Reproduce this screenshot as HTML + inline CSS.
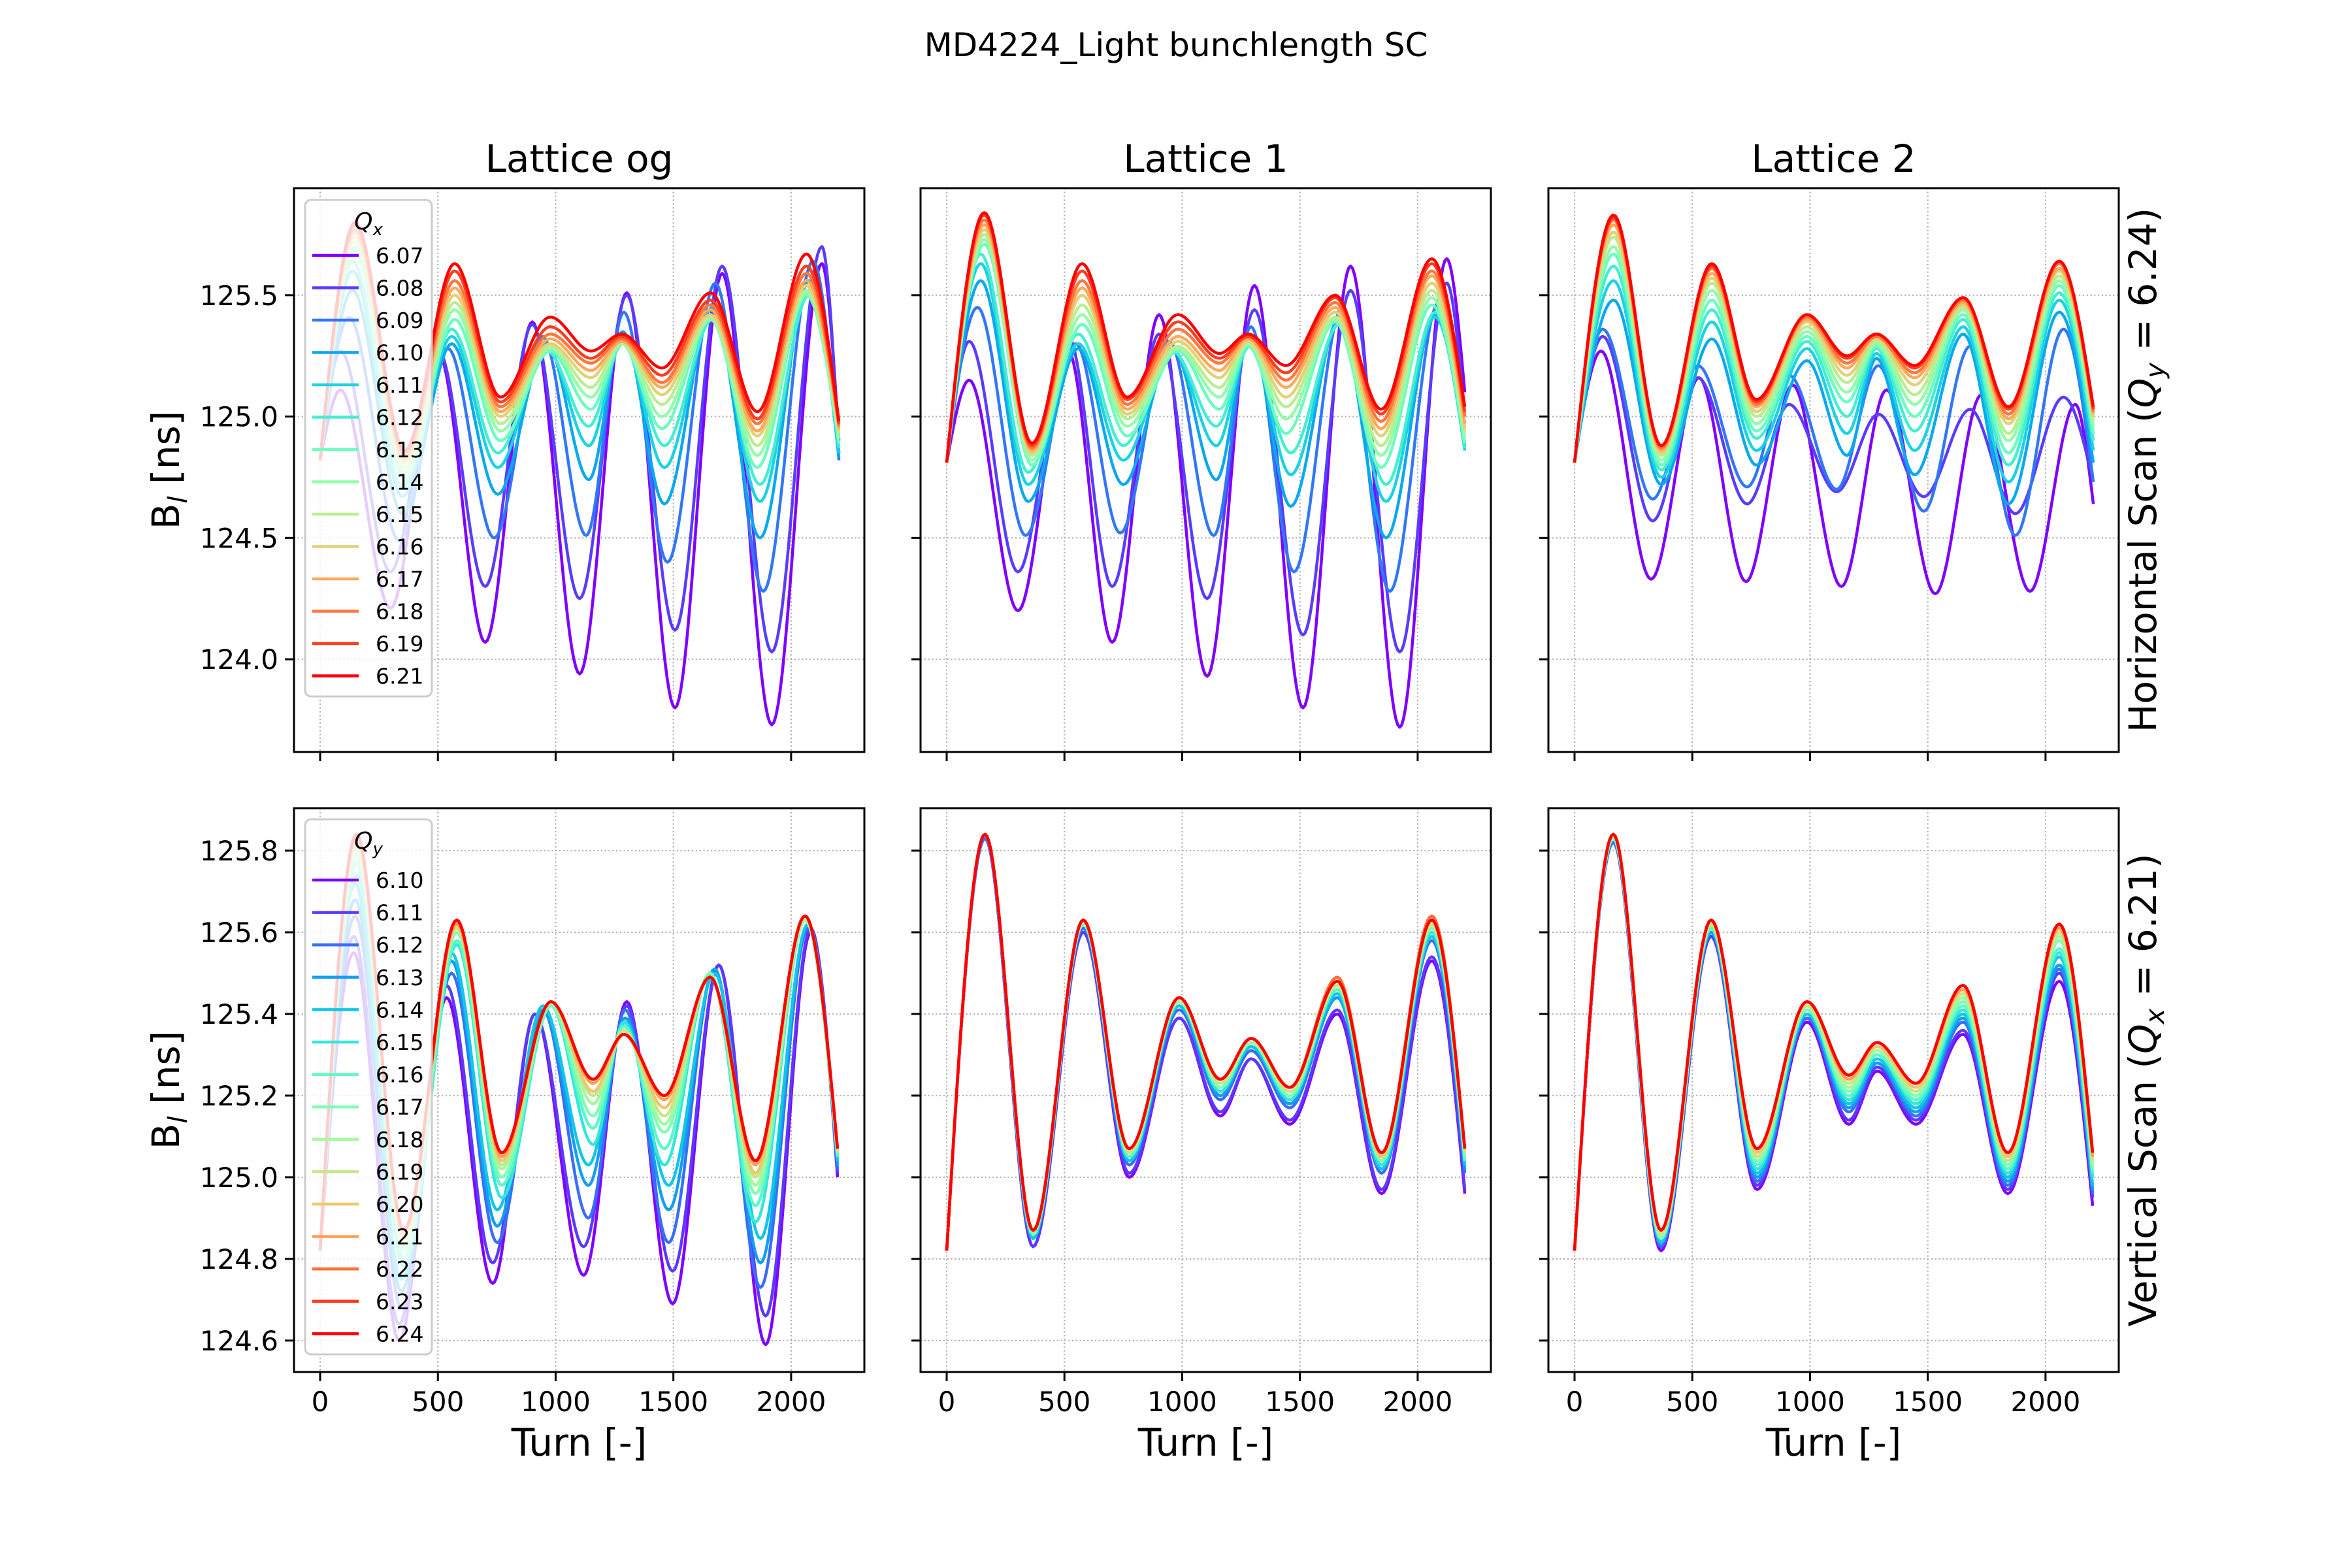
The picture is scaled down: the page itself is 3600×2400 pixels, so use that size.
<!DOCTYPE html>
<html><head><meta charset="utf-8"><title>MD4224_Light bunchlength SC</title>
<style>
html,body{margin:0;padding:0;background:#fff;}
svg{display:block;font-family:"DejaVu Sans","Liberation Sans",sans-serif;}
</style></head>
<body>
<svg id="fig" xmlns="http://www.w3.org/2000/svg" width="3600" height="2400" viewBox="0 0 3600 2400">
<rect x="0" y="0" width="3600" height="2400" fill="#fff"/>
<text x="1800" y="86" font-size="50" text-anchor="middle">MD4224_Light bunchlength SC</text>
</svg>
<script>
// ---------- data ----------
const qxLabels = ["6.07","6.08","6.09","6.10","6.11","6.12","6.13","6.14","6.15","6.16","6.17","6.18","6.19","6.21"];
const qyLabels = ["6.10","6.11","6.12","6.13","6.14","6.15","6.16","6.17","6.18","6.19","6.20","6.21","6.22","6.23","6.24"];
const xTicks = [0,500,1000,1500,2000];
const yTicksTop = [124.0,124.5,125.0,125.5];
const yTicksBot = [124.6,124.8,125.0,125.2,125.4,125.6,125.8];
const colTitles = ["Lattice og","Lattice 1","Lattice 2"];

// Top-left: Lattice og, horizontal scan
const tlTurnsA = [0,87,299,503,701,901,1102,1302,1507,1707,1918,2130,2203];
const tlTurnsB = [0,123,335,543,739,945,1130,1290,1475,1678,1882,2092,2203];
const tlTurnsD = [0,138,349,559,754,963,1141,1285,1462,1666,1868,2076,2203];
const tlTurnsC = [0,149,359,571,766,977,1150,1281,1452,1658,1857,2065,2203];
const tlTurns = [tlTurnsA,tlTurnsA,tlTurnsB,tlTurnsD,tlTurnsD,tlTurnsD,tlTurnsC,tlTurnsC,tlTurnsC,tlTurnsC,tlTurnsC,tlTurnsC,tlTurnsC,tlTurnsC];
const tlVals = [
[124.82,125.11,124.21,125.26,124.07,125.39,123.94,125.51,123.80,125.59,123.73,125.63,124.90],
[124.82,125.27,124.36,125.27,124.30,125.38,124.25,125.50,124.12,125.62,124.03,125.70,124.85],
[124.82,125.41,124.49,125.28,124.50,125.33,124.51,125.43,124.40,125.55,124.28,125.64,124.82],
[124.82,125.52,124.60,125.30,124.68,125.30,124.74,125.35,124.64,125.45,124.50,125.56,124.83],
[124.82,125.60,124.67,125.33,124.79,125.28,124.88,125.31,124.79,125.41,124.65,125.52,124.85],
[124.82,125.64,124.71,125.36,124.85,125.27,124.96,125.30,124.88,125.40,124.72,125.50,124.87],
[124.82,125.68,124.74,125.40,124.90,125.27,125.03,125.30,124.95,125.40,124.79,125.50,124.89],
[124.82,125.70,124.77,125.44,124.94,125.28,125.08,125.30,125.00,125.40,124.84,125.51,124.91],
[124.82,125.72,124.79,125.47,124.97,125.29,125.12,125.30,125.05,125.41,124.88,125.52,124.93],
[124.82,125.74,124.81,125.50,125.00,125.30,125.16,125.31,125.09,125.42,124.92,125.54,124.94],
[124.82,125.76,124.82,125.53,125.02,125.32,125.19,125.31,125.12,125.44,124.94,125.56,124.95],
[124.82,125.77,124.83,125.56,125.04,125.34,125.22,125.32,125.14,125.46,124.97,125.59,124.96],
[124.82,125.79,124.85,125.60,125.06,125.37,125.24,125.33,125.17,125.48,124.99,125.62,124.97],
[124.82,125.80,124.86,125.63,125.08,125.41,125.27,125.34,125.20,125.51,125.02,125.67,124.98]
];

// Top-middle: Lattice 1, horizontal scan
const tmTurnsA = [0,96,303,516,703,902,1106,1307,1513,1715,1924,2123,2200];
const tmTurnsB = [0,131,335,548,737,945,1134,1292,1475,1680,1882,2089,2200];
const tmTurnsD = [0,145,346,559,750,960,1145,1288,1461,1666,1866,2074,2200];
const tmTurnsC = [0,160,362,575,766,982,1158,1280,1441,1650,1845,2060,2200];
const tmTurns = [tmTurnsA,tmTurnsA,tmTurnsB,tmTurnsD,tmTurnsD,tmTurnsD,tmTurnsC,tmTurnsC,tmTurnsC,tmTurnsC,tmTurnsC,tmTurnsC,tmTurnsC,tmTurnsC];
const tmVals = [
[124.81,125.15,124.20,125.27,124.07,125.42,123.93,125.54,123.80,125.62,123.72,125.65,125.10],
[124.81,125.31,124.36,125.33,124.30,125.34,124.25,125.44,124.10,125.52,124.03,125.55,125.00],
[124.81,125.45,124.51,125.30,124.52,125.31,124.51,125.37,124.36,125.45,124.28,125.47,124.95],
[124.81,125.56,124.65,125.28,124.72,125.28,124.74,125.33,124.63,125.40,124.50,125.42,124.88],
[124.81,125.63,124.72,125.30,124.82,125.27,124.88,125.30,124.76,125.38,124.65,125.41,124.86],
[124.81,125.67,124.77,125.34,124.88,125.27,124.96,125.29,124.85,125.38,124.72,125.43,124.87],
[124.81,125.71,124.80,125.38,124.92,125.27,125.03,125.29,124.93,125.39,124.79,125.46,124.89],
[124.81,125.73,124.82,125.42,124.96,125.28,125.08,125.30,124.99,125.40,124.84,125.49,124.91],
[124.81,125.75,124.84,125.46,124.99,125.29,125.12,125.30,125.04,125.41,124.88,125.52,124.93],
[124.81,125.77,124.85,125.50,125.01,125.31,125.16,125.31,125.08,125.43,124.92,125.55,124.95],
[124.81,125.79,124.86,125.53,125.03,125.33,125.19,125.32,125.12,125.45,124.95,125.58,124.97],
[124.81,125.81,124.87,125.56,125.05,125.36,125.22,125.33,125.15,125.47,124.98,125.60,125.00],
[124.81,125.83,124.88,125.60,125.07,125.39,125.24,125.33,125.18,125.49,125.01,125.63,125.02],
[124.81,125.84,124.89,125.63,125.08,125.42,125.26,125.34,125.21,125.50,125.03,125.65,125.04]
];

// Top-right: Lattice 2, horizontal scan
const trTurnsA = [0,113,325,528,728,926,1133,1325,1532,1728,1934,2126,2203];
const trTurnsB = [0,120,332,524,733,911,1113,1290,1483,1680,1872,2076,2203];
const trTurnsC = [0,166,368,583,772,987,1157,1282,1444,1651,1843,2058,2203];
const trTurns = [trTurnsA,trTurnsB,trTurnsB,trTurnsC,trTurnsC,trTurnsC,trTurnsC,trTurnsC,trTurnsC,trTurnsC,trTurnsC,trTurnsC,trTurnsC,trTurnsC];
const trVals = [
[124.81,125.27,124.33,125.16,124.32,125.13,124.30,125.11,124.27,125.09,124.28,125.05,124.64],
[124.81,125.33,124.57,125.16,124.64,125.05,124.69,125.01,124.67,125.03,124.60,125.08,124.73],
[124.81,125.36,124.66,125.21,124.71,125.17,124.70,125.21,124.61,125.29,124.51,125.36,124.73],
[124.81,125.48,124.72,125.32,124.80,125.23,124.84,125.24,124.76,125.34,124.64,125.43,124.81],
[124.81,125.56,124.75,125.39,124.86,125.28,124.93,125.26,124.86,125.37,124.73,125.48,124.86],
[124.81,125.62,124.78,125.44,124.91,125.31,125.00,125.28,124.94,125.40,124.80,125.51,124.90],
[124.81,125.67,124.80,125.48,124.94,125.33,125.06,125.29,125.00,125.42,124.85,125.54,124.93],
[124.81,125.70,124.82,125.52,124.97,125.35,125.10,125.30,125.05,125.44,124.90,125.56,124.96],
[124.81,125.74,124.84,125.55,125.00,125.37,125.14,125.31,125.09,125.45,124.93,125.58,124.98],
[124.81,125.76,124.85,125.57,125.02,125.39,125.17,125.32,125.13,125.46,124.97,125.60,125.00],
[124.81,125.79,124.86,125.59,125.04,125.40,125.20,125.33,125.16,125.47,124.99,125.61,125.01],
[124.81,125.81,124.87,125.61,125.05,125.41,125.22,125.33,125.18,125.48,125.01,125.63,125.02],
[124.81,125.82,124.88,125.62,125.06,125.42,125.24,125.34,125.20,125.49,125.03,125.64,125.03],
[124.81,125.83,124.88,125.63,125.07,125.42,125.25,125.34,125.21,125.49,125.04,125.64,125.04]
];

// Bottom-left: Lattice og, vertical scan
const blTurnsA = [0,143,335,537,733,912,1119,1302,1497,1693,1892,2083,2197];
const blTurnsB = [0,149,345,558,752,946,1139,1296,1480,1675,1870,2071,2197];
const blTurnsC = [0,155,355,580,771,980,1159,1290,1462,1656,1849,2059,2197];
const blTurns = [blTurnsA,blTurnsA,blTurnsB,blTurnsB,blTurnsB,blTurnsC,blTurnsC,blTurnsC,blTurnsC,blTurnsC,blTurnsC,blTurnsC,blTurnsC,blTurnsC,blTurnsC];
const blVals = [
[124.82,125.55,124.60,125.44,124.74,125.40,124.76,125.43,124.69,125.52,124.59,125.60,125.00],
[124.82,125.59,124.64,125.47,124.79,125.40,124.83,125.42,124.77,125.52,124.66,125.61,125.01],
[124.82,125.64,124.68,125.50,124.84,125.41,124.90,125.41,124.84,125.51,124.73,125.61,125.02],
[124.82,125.68,124.72,125.53,124.88,125.41,124.98,125.39,124.92,125.51,124.79,125.62,125.03],
[124.82,125.72,124.75,125.55,124.92,125.42,125.03,125.38,124.98,125.50,124.85,125.62,125.04],
[124.82,125.74,124.78,125.57,124.95,125.42,125.08,125.38,125.03,125.50,124.89,125.63,125.05],
[124.82,125.77,124.80,125.58,124.98,125.42,125.12,125.37,125.07,125.50,124.93,125.63,125.05],
[124.82,125.79,124.82,125.60,125.00,125.42,125.15,125.36,125.11,125.50,124.96,125.63,125.06],
[124.82,125.80,124.83,125.61,125.02,125.43,125.18,125.36,125.13,125.49,124.98,125.63,125.06],
[124.82,125.81,124.85,125.61,125.03,125.43,125.20,125.36,125.15,125.49,125.00,125.64,125.06],
[124.82,125.82,124.85,125.62,125.04,125.43,125.21,125.35,125.17,125.49,125.01,125.64,125.07],
[124.82,125.83,124.86,125.62,125.05,125.43,125.23,125.35,125.19,125.49,125.03,125.64,125.07],
[124.82,125.84,124.87,125.63,125.06,125.43,125.24,125.35,125.20,125.49,125.04,125.64,125.07],
[124.82,125.84,124.87,125.63,125.06,125.43,125.24,125.35,125.20,125.49,125.04,125.64,125.07],
[124.82,125.84,124.87,125.63,125.06,125.43,125.24,125.35,125.20,125.49,125.04,125.64,125.07]
];

// Bottom-middle: Lattice 1, vertical scan
const bmTurns = [0,163,367,580,775,987,1162,1293,1457,1659,1847,2060,2200];
const bmVals = [
[124.82,125.83,124.83,125.60,125.00,125.39,125.15,125.29,125.13,125.40,124.96,125.53,124.96],
[124.82,125.83,124.83,125.60,125.01,125.39,125.16,125.29,125.14,125.41,124.97,125.54,124.97],
[124.82,125.83,124.85,125.61,125.03,125.41,125.19,125.31,125.17,125.44,125.01,125.58,125.01],
[124.82,125.84,124.85,125.62,125.04,125.42,125.20,125.32,125.18,125.44,125.02,125.59,125.02],
[124.82,125.84,124.85,125.62,125.04,125.42,125.21,125.32,125.19,125.45,125.02,125.59,125.03],
[124.82,125.84,124.86,125.62,125.05,125.43,125.21,125.33,125.19,125.46,125.03,125.60,125.04],
[124.82,125.84,124.86,125.62,125.05,125.43,125.22,125.33,125.20,125.46,125.04,125.61,125.04],
[124.82,125.84,124.86,125.62,125.06,125.43,125.22,125.33,125.20,125.47,125.04,125.61,125.05],
[124.82,125.84,124.87,125.63,125.06,125.43,125.23,125.33,125.21,125.47,125.05,125.62,125.06],
[124.82,125.84,124.87,125.63,125.06,125.44,125.23,125.34,125.21,125.47,125.05,125.62,125.06],
[124.82,125.84,124.87,125.63,125.07,125.44,125.24,125.34,125.22,125.48,125.05,125.63,125.07],
[124.82,125.84,124.87,125.63,125.07,125.44,125.24,125.34,125.22,125.49,125.06,125.64,125.07],
[124.82,125.84,124.87,125.63,125.07,125.44,125.24,125.34,125.22,125.49,125.06,125.64,125.07],
[124.82,125.84,124.87,125.63,125.07,125.44,125.24,125.34,125.22,125.48,125.06,125.63,125.07],
[124.82,125.84,124.87,125.63,125.07,125.44,125.24,125.34,125.22,125.48,125.06,125.63,125.07]
];

// Bottom-right: Lattice 2, vertical scan
const brTurns = [0,165,367,580,775,987,1165,1285,1450,1650,1840,2058,2200];
const brVals = [
[124.82,125.82,124.82,125.59,124.97,125.38,125.13,125.26,125.13,125.35,124.96,125.48,124.93],
[124.82,125.82,124.83,125.59,124.98,125.39,125.14,125.27,125.14,125.36,124.97,125.50,124.95],
[124.82,125.82,124.83,125.60,124.99,125.39,125.16,125.28,125.15,125.38,124.98,125.51,124.96],
[124.82,125.83,124.84,125.60,125.00,125.40,125.17,125.28,125.16,125.39,124.99,125.52,124.97],
[124.82,125.83,124.84,125.61,125.01,125.40,125.18,125.29,125.17,125.40,125.00,125.54,124.98],
[124.82,125.83,124.85,125.61,125.02,125.41,125.19,125.30,125.18,125.41,125.01,125.55,125.00],
[124.82,125.83,124.85,125.61,125.03,125.41,125.20,125.30,125.19,125.42,125.02,125.56,125.01],
[124.82,125.83,124.85,125.62,125.04,125.41,125.21,125.31,125.20,125.43,125.03,125.58,125.02],
[124.82,125.84,124.86,125.62,125.05,125.42,125.22,125.31,125.21,125.44,125.04,125.59,125.03],
[124.82,125.84,124.86,125.62,125.05,125.42,125.23,125.32,125.21,125.45,125.04,125.60,125.04],
[124.82,125.84,124.87,125.63,125.06,125.43,125.24,125.32,125.22,125.46,125.05,125.61,125.05],
[124.82,125.84,124.87,125.63,125.07,125.43,125.24,125.33,125.23,125.46,125.06,125.61,125.05],
[124.82,125.84,124.87,125.63,125.07,125.43,125.25,125.33,125.23,125.47,125.06,125.62,125.06],
[124.82,125.84,124.87,125.63,125.07,125.43,125.25,125.33,125.23,125.47,125.06,125.62,125.06],
[124.82,125.84,124.87,125.63,125.07,125.43,125.25,125.33,125.23,125.47,125.06,125.62,125.06]
];

// ---------- layout ----------
const NS = "http://www.w3.org/2000/svg";
const svg = document.getElementById('fig');
const colsX = [[450,1323],[1409,2282],[2370,3243]];
const rowsY = [[288,1151],[1237,2100]];
const xDom = [-111,2311];
const yDoms = [[123.618,125.941],[124.523,125.904]];

function mk(tag, attrs, parent){
  const el = document.createElementNS(NS, tag);
  for (const k in attrs) el.setAttribute(k, attrs[k]);
  (parent||svg).appendChild(el);
  return el;
}
function rainbow(t){
  const r = Math.min(1, Math.abs(2*t-0.5));
  const g = Math.sin(Math.PI*t);
  const b = Math.cos(Math.PI*t/2);
  return 'rgb('+Math.round(r*255)+','+Math.round(g*255)+','+Math.round(b*255)+')';
}
function curve(xs, ys){
  const n = xs.length, d = [], m = [];
  for (let k=0;k<n-1;k++) d.push((ys[k+1]-ys[k])/(xs[k+1]-xs[k]));
  m[0] = 1.5*d[0]; m[n-1] = 1.5*d[n-2];
  for (let k=1;k<n-1;k++){
    if (d[k-1]*d[k] <= 0) m[k] = 0;
    else { const h0 = xs[k]-xs[k-1], h1 = xs[k+1]-xs[k];
      m[k] = 3*(h0+h1)/((2*h1+h0)/d[k-1] + (h1+2*h0)/d[k]); }
  }
  const pts = [];
  for (let k=0;k<n-1;k++){
    const h = xs[k+1]-xs[k], steps = 24;
    for (let s=(k===0?0:1); s<=steps; s++){
      const t = s/steps, t2=t*t, t3=t2*t;
      const y = (2*t3-3*t2+1)*ys[k] + (t3-2*t2+t)*h*m[k] + (-2*t3+3*t2)*ys[k+1] + (t3-t2)*h*m[k+1];
      pts.push([xs[k]+t*h, y]);
    }
  }
  return pts;
}

const panels = [
  {r:0,c:0,turns:tlTurns,vals:tlVals,name:'lattice-og-horizontal'},
  {r:0,c:1,turns:tmTurns,vals:tmVals,name:'lattice-1-horizontal'},
  {r:0,c:2,turns:trTurns,vals:trVals,name:'lattice-2-horizontal'},
  {r:1,c:0,turns:blTurns,vals:blVals,name:'lattice-og-vertical'},
  {r:1,c:1,turns:null,shared:bmTurns,vals:bmVals,name:'lattice-1-vertical'},
  {r:1,c:2,turns:null,shared:brTurns,vals:brVals,name:'lattice-2-vertical'}
];
const defs = mk('defs',{});
panels.forEach(function(p, pi){
  const x0 = colsX[p.c][0], x1 = colsX[p.c][1], y0 = rowsY[p.r][0], y1 = rowsY[p.r][1];
  const yd = yDoms[p.r];
  const sx = function(t){ return x0 + (t-xDom[0])/(xDom[1]-xDom[0])*(x1-x0); };
  const sy = function(v){ return y1 - (v-yd[0])/(yd[1]-yd[0])*(y1-y0); };
  const g = mk('g',{});
  
  
  const cp = mk('clipPath',{id:'clip'+pi}, defs);
  mk('rect',{x:x0,y:y0,width:x1-x0,height:y1-y0}, cp);
  const yt = p.r===0 ? yTicksTop : yTicksBot;
  xTicks.forEach(function(t){
    const l = mk('line',{x1:sx(t),x2:sx(t),y1:y0,y2:y1,stroke:'#b0b0b0','stroke-width':2.2,'stroke-dasharray':'2.2,3.6'}, g);
    
    
  });
  yt.forEach(function(v){
    const l = mk('line',{x1:x0,x2:x1,y1:sy(v),y2:sy(v),stroke:'#b0b0b0','stroke-width':2.2,'stroke-dasharray':'2.2,3.6'}, g);
    
    
  });
  const sg = mk('g',{'clip-path':'url(#clip'+pi+')'}, g);
  const labels = p.r===0 ? qxLabels : qyLabels;
  p.vals.forEach(function(vals, i){
    const turns = p.turns ? p.turns[i] : p.shared;
    const pts = curve(turns, vals);
    let dstr = '';
    pts.forEach(function(q, j){ dstr += (j?'L':'M') + sx(q[0]).toFixed(1) + ',' + sy(q[1]).toFixed(1); });
    const path = mk('path',{d:dstr,fill:'none',stroke:rainbow(i/(p.vals.length-1)),'stroke-width':4.5,'stroke-linejoin':'round'}, sg);
    
    
  });
  const fr = mk('rect',{x:x0,y:y0,width:x1-x0,height:y1-y0,fill:'none',stroke:'#000','stroke-width':3}, g);
  
  
  xTicks.forEach(function(t){
    const tk = mk('line',{x1:sx(t),x2:sx(t),y1:y1,y2:y1+14,stroke:'#000','stroke-width':3}, g);
    
    
    if (p.r===1){
      const tl = mk('text',{x:sx(t),y:y1+60,'font-size':42,'text-anchor':'middle'}, g);
      tl.textContent = String(t);
      
      
    }
  });
  yt.forEach(function(v){
    const tk = mk('line',{x1:x0-14,x2:x0,y1:sy(v),y2:sy(v),stroke:'#000','stroke-width':3}, g);
    
    
    if (p.c===0){
      const tl = mk('text',{x:x0-24,y:sy(v)+15,'font-size':42,'text-anchor':'end'}, g);
      tl.textContent = v.toFixed(1);
      
      
    }
  });
  if (p.r===0){
    const ct = mk('text',{x:(x0+x1)/2,y:263,'font-size':58,'text-anchor':'middle'}, g);
    ct.textContent = colTitles[p.c];
    
    
  } else {
    const xl = mk('text',{x:(x0+x1)/2,y:2228,'font-size':58,'text-anchor':'middle'}, g);
    xl.textContent = 'Turn [-]';
    
    
  }
  if (p.c===0){
    const cy = (y0+y1)/2;
    const yl = mk('text',{x:0,y:0,'font-size':58,'text-anchor':'middle',transform:'translate(274,'+cy+') rotate(-90)'}, g);
    yl.innerHTML = 'B<tspan font-size="40" font-style="italic" dy="12">l</tspan><tspan dy="-12"> [ns]</tspan>';
    
    
  }
  if (p.c===2){
    const cy = (y0+y1)/2;
    const rl = mk('text',{x:0,y:0,'font-size':58,'text-anchor':'middle',transform:'translate(3300,'+cy+') rotate(-90)'}, g);
    if (p.r===0) rl.innerHTML = 'Horizontal Scan (<tspan font-style="italic">Q</tspan><tspan font-size="40" font-style="italic" dy="12">y</tspan><tspan dy="-12"> = 6.24)</tspan>';
    else rl.innerHTML = 'Vertical Scan (<tspan font-style="italic">Q</tspan><tspan font-size="40" font-style="italic" dy="12">x</tspan><tspan dy="-12"> = 6.21)</tspan>';
    
    
  }
  if (p.c===0){
    const lx0 = 467, lx1 = 661;
    const top = p.r===0 ? 306 : 1254, bot = p.r===0 ? 1066 : 2073;
    const titleY = p.r===0 ? 339 : 1287;
    const firstY = p.r===0 ? 391 : 1347;
    const step = p.r===0 ? 49.5 : 49.6;
    const lg = mk('g',{}, g);
    
    
    mk('rect',{x:lx0,y:top,width:lx1-lx0,height:bot-top,rx:9,fill:'rgba(255,255,255,0.8)',stroke:'#cccccc','stroke-width':3}, lg);
    const tt = mk('text',{x:(lx0+lx1)/2,y:titleY+12,'font-size':36,'text-anchor':'middle','font-style':'italic'}, lg);
    tt.innerHTML = 'Q<tspan font-size="26" dy="9">' + (p.r===0?'x':'y') + '</tspan>';
    
    
    p.vals.forEach(function(v, i){
      const yy = firstY + i*step;
      const e = mk('g',{}, lg);
      
      
      mk('line',{x1:478,x2:549,y1:yy,y2:yy,stroke:rainbow(i/(p.vals.length-1)),'stroke-width':4.5}, e);
      const t = mk('text',{x:575,y:yy+12,'font-size':33}, e);
      t.textContent = labels[i];
    });
  }
});
</script>
</body></html>
